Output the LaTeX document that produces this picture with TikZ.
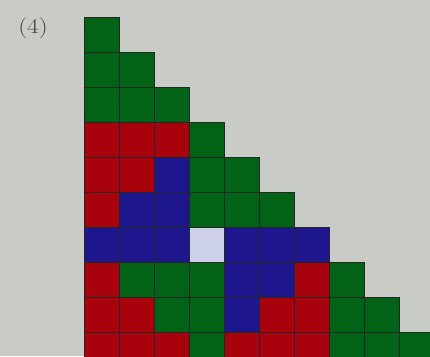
\documentclass[tikz,border=0pt]{standalone}
\usepackage{xcolor}
\usepackage{tikz}
\definecolor{paper}{RGB}{201,203,199}
\definecolor{cellG}{RGB}{2,98,22}
\definecolor{cellR}{RGB}{168,2,12}
\definecolor{cellB}{RGB}{30,22,140}
\definecolor{cellW}{RGB}{204,208,232}

\begin{document}
\begin{tikzpicture}[
  x=1pt, y=-1pt,
  cell/.style={draw=black!85, line width=1pt},
  label/.style={font=\fontsize{21}{24}\selectfont, text=black!75, inner sep=0pt, xscale=1.2, transform shape}
]
\useasboundingbox (0,0) rectangle (430,356);
\fill[paper] (0,0) rectangle (430,356);
\clip (0,0) rectangle (430,356);
\node[label] (num) at (33,28) {(4)};
% staircase of coloured cells, one row per entry
\foreach \row [count=\r from 0] in {
  {G},
  {G,G},
  {G,G,G},
  {R,R,R,G},
  {R,R,B,G,G},
  {R,B,B,G,G,G},
  {B,B,B,W,B,B,B},
  {R,G,G,G,B,B,R,G},
  {R,R,G,G,B,R,R,G,G},
  {R,R,R,G,R,R,R,G,G,G}}
{
  \foreach \c [count=\k from 0] in \row
    \filldraw[cell, fill=cell\c] (84.5+35*\k,17.5+35*\r) rectangle ++(35,35);
}
\end{tikzpicture}
\end{document}
